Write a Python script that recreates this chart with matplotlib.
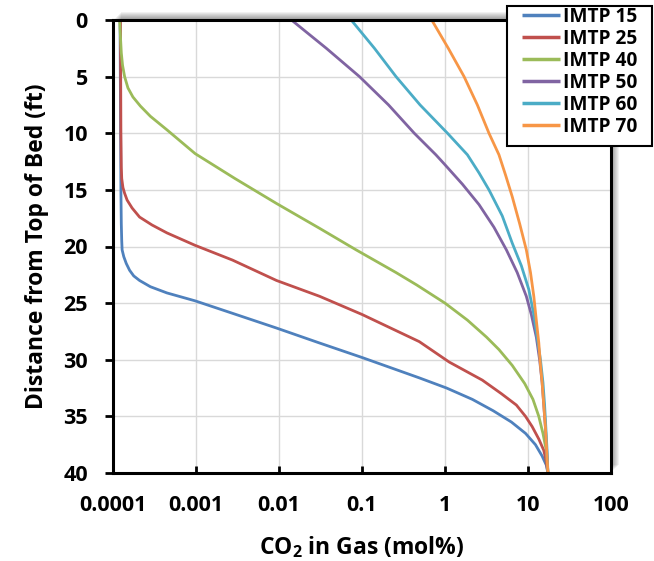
import matplotlib
matplotlib.use("Agg")
import matplotlib.pyplot as plt
from matplotlib.patches import Rectangle

plt.rcParams['font.family'] = ['Open Sans', 'DejaVu Sans']
plt.rcParams['font.weight'] = 'bold'
plt.rcParams['mathtext.fontset'] = 'custom'
plt.rcParams['mathtext.rm'] = 'Open Sans:bold'
plt.rcParams['mathtext.bf'] = 'Open Sans:bold'

# depth (ft) and CO2 in gas (mol%)
depth_15 = [0, 5, 10, 15, 18, 19.5, 20.3, 20.9, 21.5, 22.1, 22.6, 23.0, 23.55, 24.1, 24.8, 25.9,
            27.2, 28.5, 29.8, 31.6, 32.5, 33.5, 34.5, 35.5, 36.5, 37.5, 38.5, 39.3, 40]
co2_15 = [0.0001216, 0.0001225, 0.0001236, 0.0001245, 0.0001259, 0.0001274, 0.0001288, 0.0001349,
          0.0001445, 0.0001585, 0.0001778, 0.0002089, 0.0002818, 0.0004467, 0.000977, 0.002754,
          0.00933, 0.0302, 0.1, 0.490, 1.047, 2.138, 3.802, 6.31, 9.333, 12.30, 14.79, 16.60, 17.38]

depth_25 = [0, 10, 13, 14, 14.8, 15.3, 15.9, 16.6, 17.4, 18.1, 18.8, 19.9, 21.2, 23.0, 24.4, 26.0,
            28.4, 30.2, 31.8, 33.0, 34.0, 35.0, 35.9, 37.0, 38.0, 39.0, 40]
co2_25 = [0.000123, 0.0001245, 0.0001259, 0.0001274, 0.0001318, 0.000138, 0.0001479, 0.0001698,
          0.0002089, 0.0002951, 0.0004467, 0.000977, 0.002754, 0.00933, 0.0309, 0.1,
          0.490, 1.122, 2.818, 4.786, 7.244, 9.333, 11.22, 13.49, 15.49, 16.60, 17.38]

depth_40 = [0, 1.5, 2.9, 4.0, 5.0, 6.0, 6.8, 7.6, 8.5, 9.7, 11.8, 14.0, 16.2, 18.4, 20.3, 21.3,
            22.3, 23.4, 25.0, 26.5, 28.0, 29.1, 30.5, 32.1, 33.5, 35.0, 36.5, 38.0, 40]
co2_40 = [0.0001202, 0.000123, 0.0001259, 0.0001303, 0.000138, 0.0001514, 0.0001738, 0.0002138,
          0.0002818, 0.0004467, 0.000977, 0.002951, 0.00933, 0.0309, 0.0851, 0.1479,
          0.257, 0.457, 1.0, 1.862, 3.162, 4.467, 6.457, 9.12, 11.48, 13.49, 15.14, 16.60, 17.38]

depth_50 = [0, 2.5, 5.0, 7.5, 10.0, 11.9, 12.7, 14.5, 16.3, 18.3, 20.3, 22.3, 24.4, 26.0, 28.0,
            30.0, 32.0, 34.0, 36.0, 38.0, 40]
co2_50 = [0.01413, 0.0372, 0.0933, 0.2089, 0.4266, 0.776, 0.977, 1.622, 2.570, 3.890, 5.495,
          7.413, 9.55, 10.96, 12.59, 13.80, 14.79, 15.49, 16.22, 16.79, 17.38]

depth_60 = [0, 2.5, 5.0, 7.5, 10.0, 11.9, 13.5, 15.0, 17.3, 19.7, 21.7, 23.8, 26.0, 28.0, 30.0,
            32.0, 34.0, 36.0, 38.0, 40]
co2_60 = [0.0741, 0.1413, 0.257, 0.501, 1.072, 1.862, 2.570, 3.388, 4.898, 6.457, 8.318, 10.23,
          11.75, 12.88, 14.13, 15.14, 15.85, 16.41, 16.98, 17.38]

depth_70 = [0, 2.5, 5.0, 7.5, 10.0, 11.9, 13.7, 15.6, 18.0, 20.3, 22.3, 24.4, 26.5, 28.5, 30.5,
            32.0, 34.0, 36.0, 38.0, 40]
co2_70 = [0.692, 1.096, 1.698, 2.455, 3.388, 4.467, 5.370, 6.457, 7.943, 9.55, 10.72, 11.75,
          12.59, 13.49, 14.13, 14.79, 15.49, 16.22, 16.79, 17.38]

labels = ['IMTP 15', 'IMTP 25', 'IMTP 40', 'IMTP 50', 'IMTP 60', 'IMTP 70']
colors = ['#4F81BD', '#C0504D', '#9BBB59', '#8064A2', '#4BACC6', '#F79646']
series = [(co2_15, depth_15), (co2_25, depth_25), (co2_40, depth_40),
          (co2_50, depth_50), (co2_60, depth_60), (co2_70, depth_70)]

x_ticks = [0.0001, 0.001, 0.01, 0.1, 1, 10, 100]
x_ticklabels = ['0.0001', '0.001', '0.01', '0.1', '1', '10', '100']
y_ticks = [0, 5, 10, 15, 20, 25, 30, 35, 40]

W, H = 654, 561
fig = plt.figure(figsize=(W / 100, H / 100), dpi=100)
ax_box = [113 / W, 1 - 473 / H, 498 / W, 453 / H]
ax = fig.add_axes(ax_box)

# soft shadow up and to the right of the plot area
for k in range(1, 9):
    fig.patches.append(Rectangle((ax_box[0] + k / W, ax_box[1] + k / H), ax_box[2], ax_box[3],
                                 transform=fig.transFigure, facecolor='black', alpha=0.055,
                                 edgecolor='none', zorder=-1))

for (xv, yv), lab, c in zip(series, labels, colors):
    ax.plot(xv, yv, color=c, linewidth=2.0, label=lab, solid_capstyle='butt')

ax.set_xscale('log')
ax.set_xlim(0.0001, 100)
ax.set_ylim(40, 0)
ax.set_xticks(x_ticks)
ax.set_xticklabels(x_ticklabels)
ax.minorticks_off()
ax.set_yticks(y_ticks)
ax.grid(True, color='#d9d9d9', linewidth=1.0)
ax.set_axisbelow(True)

for s in ax.spines.values():
    s.set_linewidth(2.2)
    s.set_color('black')

ax.tick_params(axis='y', direction='out', length=6, width=2, pad=12, labelsize=15.5)
ax.tick_params(axis='x', direction='in', length=5, width=2, pad=16, labelsize=15.5)

ax.set_xlabel('CO$_2$ in Gas (mol%)', fontsize=16.5, fontweight='bold', labelpad=13)
ax.set_ylabel('Distance from Top of Bed (ft)', fontsize=16.5, fontweight='bold', labelpad=10)

# legend box, wider padding left/right than top/bottom
ax.add_patch(Rectangle((507 / W, 1 - 146 / H), 145 / W, 140 / H, transform=fig.transFigure,
                       facecolor='white', edgecolor='black', linewidth=1.5,
                       clip_on=False, zorder=4.9))
leg = ax.legend(loc='upper left', bbox_to_anchor=(522 / W, 1 - 7 / H),
                bbox_transform=fig.transFigure, borderaxespad=0, borderpad=0,
                fontsize=13.8, frameon=False, handlelength=2.0,
                handletextpad=0.15, labelspacing=0.1)
for t in leg.get_texts():
    t.set_fontweight('bold')
for h in leg.get_lines():
    h.set_linewidth(2.5)

fig.savefig('out.png', dpi=100)
